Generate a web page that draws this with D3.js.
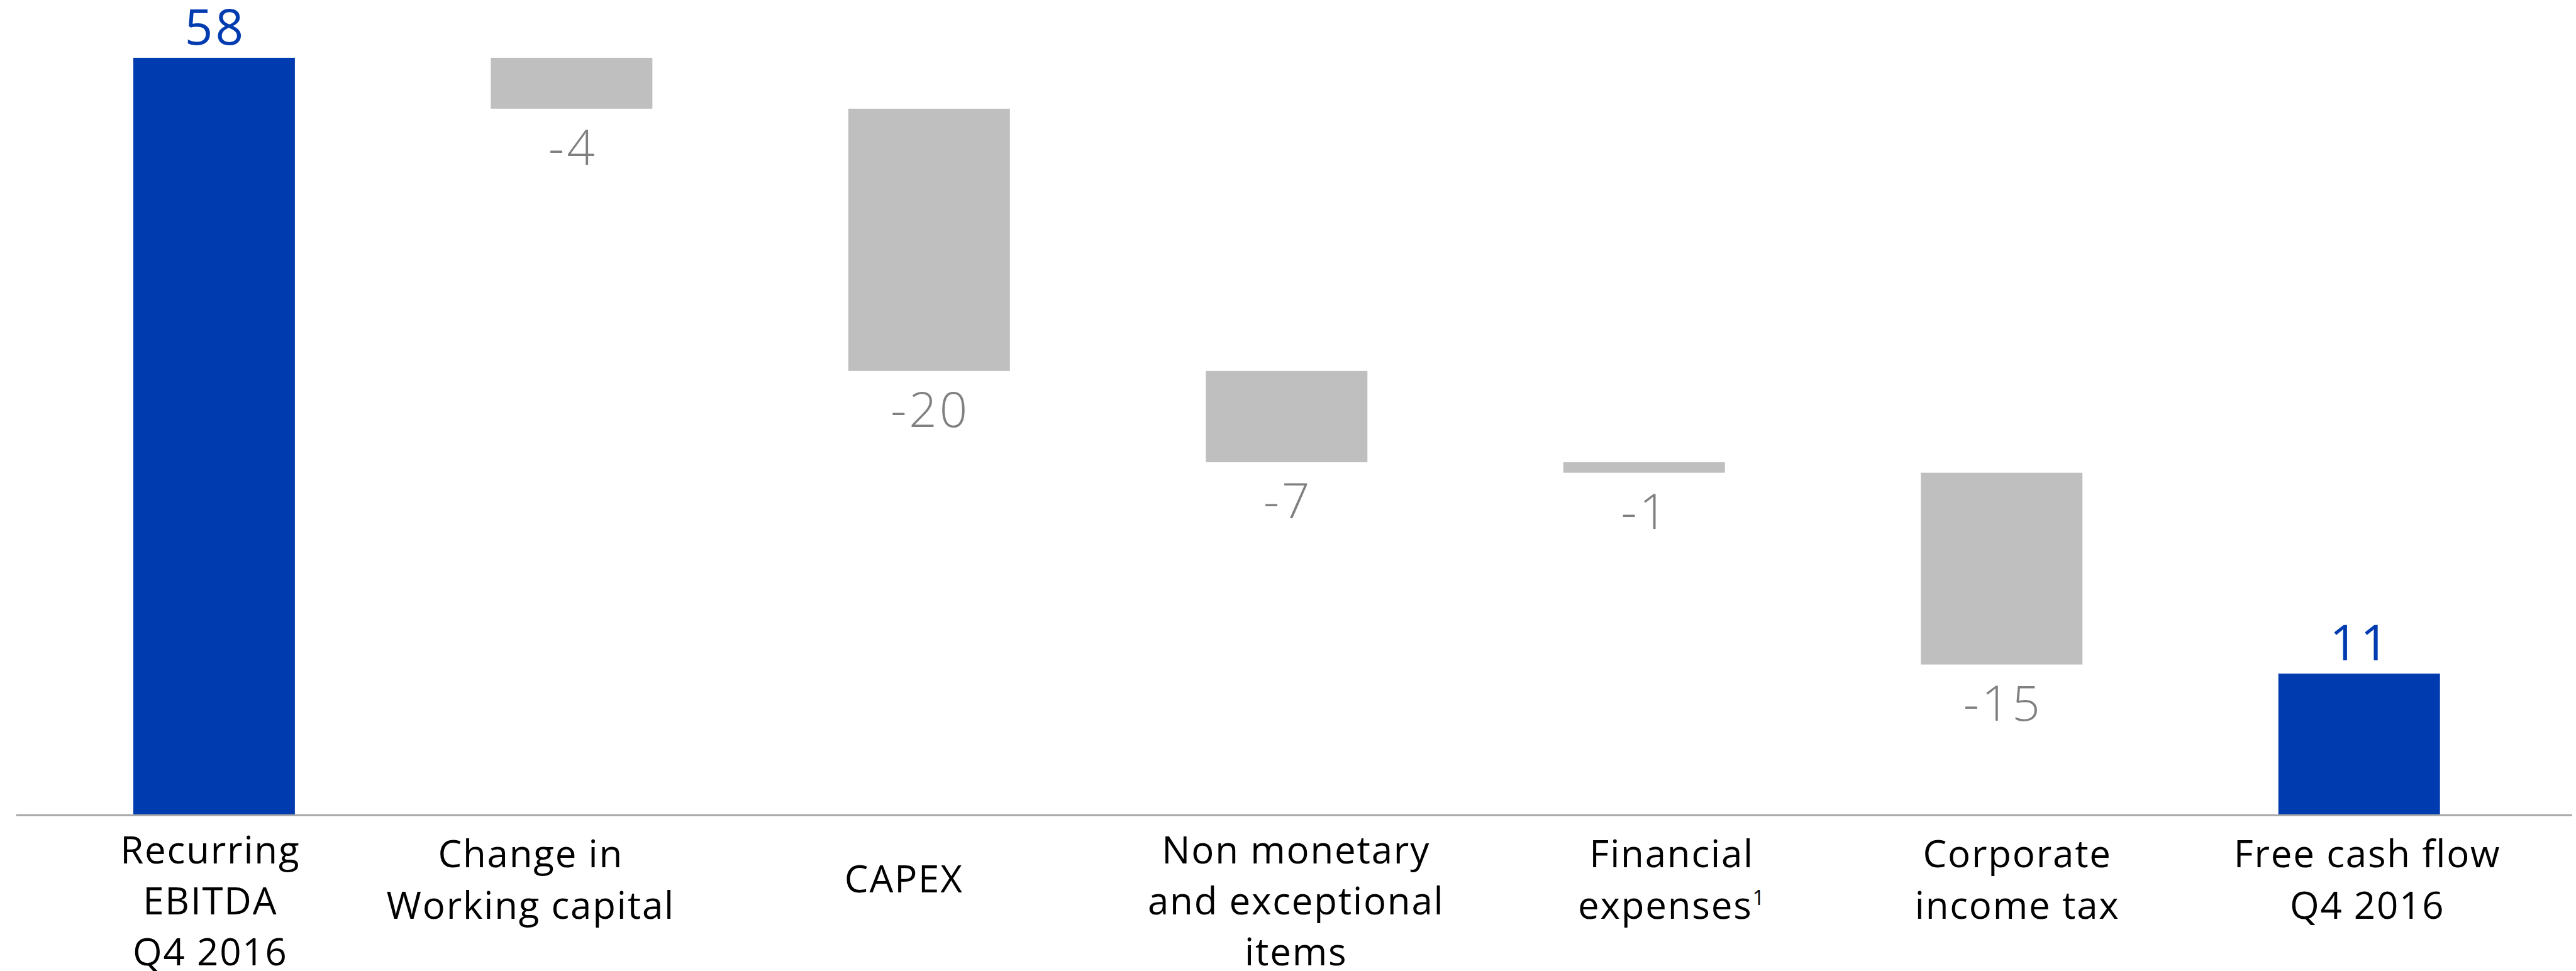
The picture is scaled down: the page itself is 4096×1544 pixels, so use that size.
<!DOCTYPE html>
<html>
<head>
<meta charset="utf-8">
<script src="https://cdn.jsdelivr.net/npm/d3@7"></script>
<style>
  html, body { margin: 0; padding: 0; background: #ffffff; }
  svg { display: block; }
</style>
</head>
<body>
<svg id="chart" width="4096" height="1544"></svg>
<script>
// ---- data ----
const categories = [
  "Recurring\nEBITDA\nQ4 2016",
  "Change in\nWorking capital",
  "CAPEX",
  "Non monetary\nand exceptional\nitems",
  "Financial\nexpenses",
  "Corporate\nincome tax",
  "Free cash flow\nQ4 2016"
];
const footnotes = ["", "", "", "", "1", "", ""];
const values = [58, -3.9, -20.1, -7.0, -0.8, -14.7, 10.8];
const kinds = ["total", "delta", "delta", "delta", "delta", "delta", "total"];
const valueLabels = ["58", "-4", "-20", "-7", "-1", "-15", "11"];

// ---- build waterfall segments ----
let running = 0;
const bars = values.map((v, i) => {
  let y0, y1;
  if (kinds[i] === "total") { y0 = 0; y1 = v; running = v; }
  else { y0 = running; y1 = running + v; running = y1; }
  return { i, cat: categories[i], v, kind: kinds[i], lo: Math.min(y0, y1), hi: Math.max(y0, y1), label: valueLabels[i], note: footnotes[i] };
});

// ---- layout ----
const S = 0.851;
const svg = d3.select("#chart");
const BLUE = "#003BB0", GRAY = "#BFBFBF", LABELGRAY = "#808080";
const FONT = "'Open Sans', 'DejaVu Sans', sans-serif";

const x = d3.scaleBand()
  .domain(categories)
  .range([66 * S, 4742 * S])
  .paddingInner(0.548)
  .paddingOuter(0.274);

const y = d3.scaleLinear()
  .domain([0, 58])
  .range([1522 * S, 108 * S]);

// bars
svg.append("g").selectAll("rect")
  .data(bars)
  .join("rect")
  .attr("x", d => x(d.cat))
  .attr("width", x.bandwidth())
  .attr("y", d => y(d.hi))
  .attr("height", d => y(d.lo) - y(d.hi))
  .attr("fill", d => d.kind === "total" ? BLUE : GRAY);

// baseline axis
svg.append("line")
  .attr("x1", 30 * S).attr("x2", 4806 * S)
  .attr("y1", y(0) + 1).attr("y2", y(0) + 1)
  .attr("stroke", "#A6A6A6").attr("stroke-width", 3);

// value labels
const valueFont = 78, valueLS = 4;
svg.append("g").selectAll("text")
  .data(bars)
  .join("text")
  .attr("x", d => x(d.cat) + x.bandwidth() / 2 + valueLS / 2)
  .attr("y", d => d.v < 0 ? y(d.lo) + 89 : y(d.hi) - 21)
  .attr("text-anchor", "middle")
  .attr("font-family", FONT)
  .attr("font-weight", d => d.kind === "total" ? 400 : 300)
  .attr("font-size", valueFont)
  .attr("letter-spacing", valueLS)
  .attr("fill", d => d.kind === "total" ? BLUE : LABELGRAY)
  .text(d => d.label);

// category labels (text boxes sit slightly off the bar centres, as in the source)
const labelDx = [-7, -66, -41, 14, 43, 24, 12];
const firstBaseByLines = { 1: 1667 * S, 2: 1621 * S, 3: 1613 * S };
const catFont = 60, lineH = 81.3, catLS = 1.8;
const cg = svg.append("g");
bars.forEach(d => {
  const lines = d.cat.split("\n");
  const start = firstBaseByLines[lines.length];
  const cx = x(d.cat) + x.bandwidth() / 2 + labelDx[d.i] + catLS / 2;
  const t = cg.append("text")
    .attr("x", cx)
    .attr("y", start)
    .attr("text-anchor", "middle")
    .attr("font-family", FONT)
    .attr("font-size", catFont)
    .attr("letter-spacing", catLS)
    .attr("fill", "#000000");
  lines.forEach((ln, j) => {
    const ts = t.append("tspan")
      .attr("x", cx)
      .attr("y", start + j * lineH)
      .text(ln);
    if (j === lines.length - 1 && d.note) {
      ts.append("tspan")
        .attr("font-size", catFont * 0.55)
        .attr("dy", -catFont * 0.36)
        .text(d.note);
    }
  });
});
</script>
</body>
</html>
